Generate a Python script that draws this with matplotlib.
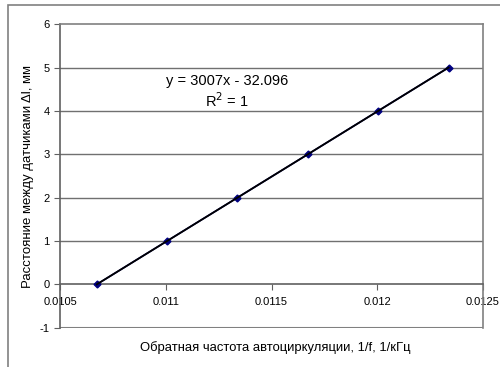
import numpy as np
import matplotlib.pyplot as plt
from matplotlib.patches import Rectangle

plt.rcParams['font.family'] = ['Liberation Sans', 'DejaVu Sans']
plt.rcParams['axes.unicode_minus'] = False

# measured points: inverse frequency (1/kHz) vs sensor spacing (mm)
inv_freq = [0.010674, 0.011006, 0.011339, 0.011672, 0.012004, 0.012337]
spacing = [0, 1, 2, 3, 4, 5]
x_ticks = [0.0105, 0.011, 0.0115, 0.012, 0.0125]
x_tick_labels = ['0.0105', '0.011', '0.0115', '0.012', '0.0125']
y_ticks = [-1, 0, 1, 2, 3, 4, 5, 6]

fig = plt.figure(figsize=(5, 3.67), dpi=100)
fig.patches.append(Rectangle((8 / 500, -0.1), 1.2, 1 - 5 / 367 + 0.1,
                             transform=fig.transFigure, fill=False,
                             edgecolor='#808080', lw=1.2))

ax = fig.add_axes([0.12, 0.107, 0.846, 0.827])

# linear fit (trend line)
k, b = np.polyfit(inv_freq, spacing, 1)
xs = np.array([inv_freq[0], inv_freq[-1]])

ax.plot(inv_freq, spacing, color='#000080', lw=1.2, marker='D', ms=3.5, zorder=3)
ax.plot(xs, k * xs + b, color='black', lw=1.3, zorder=4)

ax.set_xlim(0.0105, 0.0125)
ax.set_ylim(-1, 6)
ax.set_yticks(y_ticks)
ax.set_xticks(x_ticks)
ax.set_xticklabels(x_tick_labels)

for y in y_ticks[2:-1]:
    ax.axhline(y, color='#707070', lw=1, zorder=1)
ax.axhline(-1, color='#808080', lw=1.5, zorder=1)

ax.spines['bottom'].set_position(('data', 0))
ax.spines['bottom'].set_color('#606060')
ax.spines['left'].set_color('#606060')
ax.spines['top'].set_color('#808080')
ax.spines['right'].set_color('#808080')
for s in ax.spines.values():
    s.set_linewidth(1.2)

ax.tick_params(axis='both', labelsize=8, length=4, color='#606060', direction='out')
ax.tick_params(axis='x', pad=5)

ax.text(0.01129, 4.68, 'y = 3007x - 32.096', ha='center', va='center', fontsize=10.5)
ax.text(0.01129, 4.24, 'R$^2$ = 1', ha='center', va='center', fontsize=10.5)

fig.text(28 / 500, 1 - 176 / 367, 'Расстояние между датчиками Δl, мм', rotation=90,
         ha='center', va='center', fontsize=9.5)
fig.text(275 / 500, 1 - 348 / 367, 'Обратная частота автоциркуляции, 1/f, 1/кГц',
         ha='center', va='center', fontsize=9.4)

fig.savefig('out.png', dpi=100)
